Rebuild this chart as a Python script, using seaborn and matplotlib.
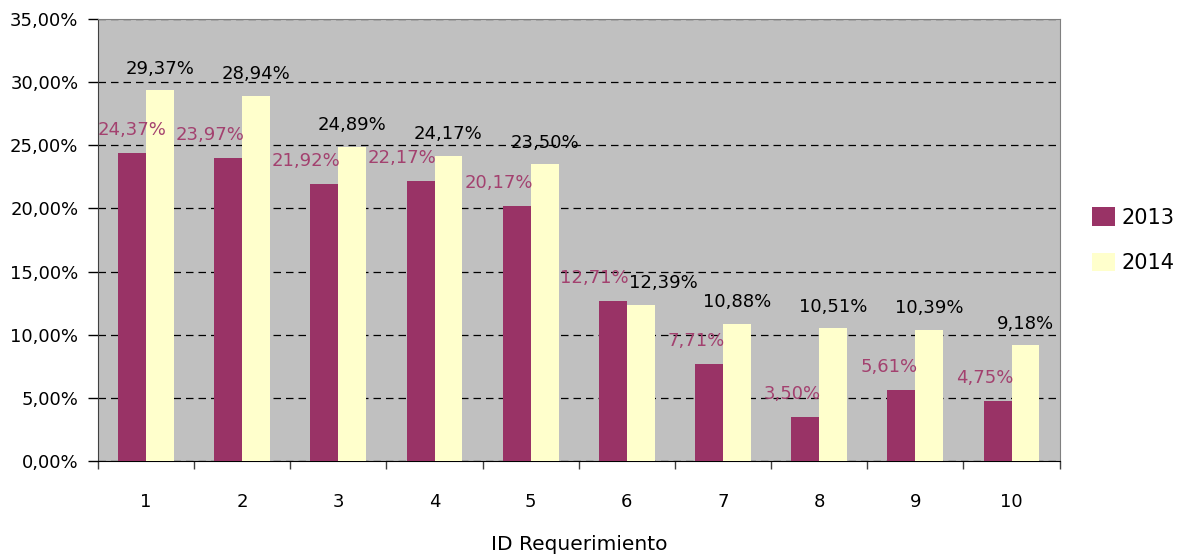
import pandas as pd
import matplotlib.pyplot as plt
import matplotlib.ticker as ticker
import seaborn as sns

# Datos.
Requerimientos = ['1', '2', '3', '4', '5', '6', '7', '8', '9', '10']
Valores_2013 = [24.37, 23.97, 21.92, 22.17, 20.17, 12.71, 7.71, 3.50, 5.61, 4.75]
Valores_2014 = [29.37, 28.94, 24.89, 24.17, 23.50, 12.39, 10.88, 10.51, 10.39, 9.18]
Anios = ['2013', '2014']

# Tabla en formato largo para seaborn.
Datos = pd.DataFrame({
    'req': Requerimientos * 2,
    'anio': [Anios[0]] * len(Requerimientos) + [Anios[1]] * len(Requerimientos),
    'valor': [v / 100 for v in Valores_2013 + Valores_2014],
})

sns.set_style('white')
plt.rcParams['font.family'] = ['DejaVu Sans']
plt.rcParams['text.color'] = 'black'
plt.rcParams['axes.labelcolor'] = 'black'
plt.rcParams['xtick.labelcolor'] = 'black'
plt.rcParams['ytick.labelcolor'] = 'black'

Figure, Grafico = plt.subplots(figsize=(11.8, 5.57), dpi=100)
Figure.subplots_adjust(left=0.083, right=0.898, bottom=0.172, top=0.966)

Colores = {'2013': '#993366', '2014': '#FFFFCC'}
sns.barplot(data=Datos, x='req', y='valor', hue='anio', order=Requerimientos,
            hue_order=Anios, palette=Colores, width=0.58, saturation=1,
            edgecolor='none', linewidth=0, ax=Grafico, zorder=3)

# Fondo gris y cuadrícula punteada.
Grafico.set_facecolor('#C0C0C0')
Grafico.yaxis.grid(True, color='black', linestyle=(0, (6, 4)), linewidth=0.9, zorder=1)
Grafico.set_axisbelow(True)

# Eje Y.
Grafico.set_ylim(0, 0.35)
Grafico.yaxis.set_major_locator(ticker.MultipleLocator(0.05))
Grafico.yaxis.set_major_formatter(ticker.FuncFormatter(lambda x, _: f'{x * 100:.2f}%'.replace('.', ',')))
Grafico.tick_params(axis='y', length=7, width=1, color='black', labelsize=13, left=True, direction='out', pad=7)

# Eje X: marcas entre categorías.
Grafico.set_xlim(-0.5, len(Requerimientos) - 0.5)
Grafico.tick_params(axis='x', which='major', length=0, pad=23, labelsize=13)
Grafico.set_xticks([i - 0.5 for i in range(len(Requerimientos) + 1)], minor=True)
Grafico.tick_params(axis='x', which='minor', length=6, width=1, color='#404040', bottom=True, direction='out')

Grafico.set_xlabel('ID Requerimiento', fontsize=14.5, labelpad=17)
Grafico.set_ylabel('')

# Bordes.
for Lado in ['top', 'right']:
    Grafico.spines[Lado].set_color('#808080')
Grafico.spines['left'].set_color('#404040')
Grafico.spines['bottom'].set_color('black')

# Etiquetas de valores.
Formato = lambda v: f'{v * 100:.2f}%'.replace('.', ',')
Etiquetas_2013 = []
Etiquetas_2014 = []
for Barra, Valor in zip(Grafico.containers[0], Valores_2013):
    x = Barra.get_x() + Barra.get_width()
    Etiquetas_2013.append(Grafico.annotate(Formato(Valor / 100), (x, Barra.get_height()), xytext=(1.5, 10),
                                           textcoords='offset points', ha='right', va='bottom',
                                           fontsize=13, color='#A3416F', zorder=5))
for Barra, Valor in zip(Grafico.containers[1], Valores_2014):
    x = Barra.get_x() + Barra.get_width() / 2
    Etiquetas_2014.append(Grafico.annotate(Formato(Valor / 100), (x, Barra.get_height()), xytext=(0, 9),
                                           textcoords='offset points', ha='center', va='bottom',
                                           fontsize=13, color='black', zorder=5))

# Ajustar etiquetas: no salir del área y no pisarse.
Figure.canvas.draw()
Renderer = Figure.canvas.get_renderer()
Borde_Izq = Grafico.get_window_extent().x0
A_Puntos = 72 / Figure.dpi
for E13, E14 in zip(Etiquetas_2013, Etiquetas_2014):
    Caja = E13.get_window_extent(Renderer)
    if Caja.x0 < Borde_Izq:
        dx, dy = E13.xyann
        E13.xyann = (dx + (Borde_Izq - Caja.x0) * A_Puntos, dy)
    Figure.canvas.draw()
    C13 = E13.get_window_extent(Renderer)
    C14 = E14.get_window_extent(Renderer)
    if C13.overlaps(C14):
        dx, dy = E14.xyann
        E14.xyann = (dx + (C13.x1 - C14.x0) * A_Puntos, dy)

# Leyenda a la derecha.
Grafico.legend(loc='center left', bbox_to_anchor=(1.014, 0.5), frameon=False, fontsize=15,
               handlelength=1.1, handleheight=1.0, handletextpad=0.3, labelspacing=1.2, title=None)

plt.savefig('out.png', dpi=100)
